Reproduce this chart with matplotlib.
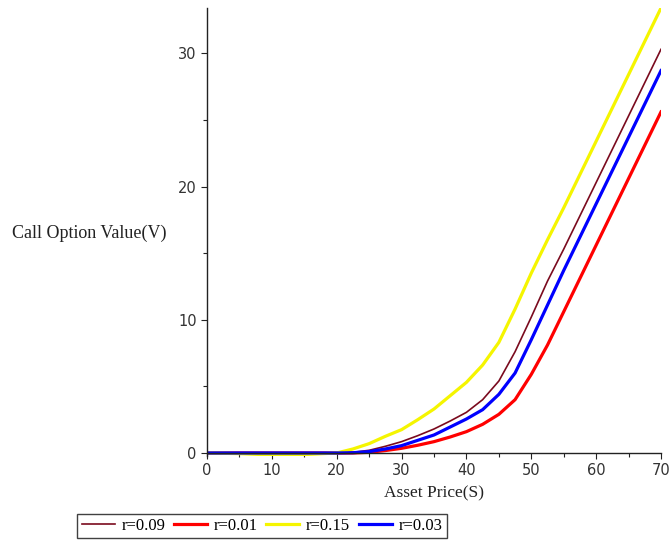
import numpy as np
import matplotlib
matplotlib.use("Agg")
import matplotlib.pyplot as plt
from matplotlib.ticker import MultipleLocator

# Asset price grid and option values
S = [0, 5, 10, 15, 20, 22.5, 25, 27.5, 30, 32.5, 35, 37.5, 40, 42.5, 45,
     47.5, 50, 52.5, 55, 57.5, 60, 62.5, 65, 67.5, 70]

v_r009 = [0, 0, 0, 0, 0, 0.05, 0.2, 0.5, 0.85, 1.3, 1.8, 2.4, 3.05, 4.0, 5.4,
          7.6, 10.2, 12.9, 15.3, 17.8, 20.3, 22.8, 25.3, 27.8, 30.3]
v_r001 = [0, 0, 0, 0, 0, 0, 0.05, 0.18, 0.35, 0.58, 0.85, 1.2, 1.6, 2.15, 2.9,
          4.0, 5.9, 8.1, 10.6, 13.1, 15.6, 18.1, 20.6, 23.1, 25.6]
v_r015 = [0, -0.05, -0.15, -0.12, 0, 0.3, 0.7, 1.25, 1.75, 2.5, 3.3, 4.3, 5.3,
          6.6, 8.3, 10.8, 13.5, 16.0, 18.4, 20.9, 23.4, 25.9, 28.4, 30.9, 33.4]
v_r003 = [0, 0, 0, 0, 0, 0.02, 0.1, 0.3, 0.55, 0.95, 1.35, 1.95, 2.55, 3.25, 4.4,
          6.0, 8.5, 11.1, 13.7, 16.2, 18.7, 21.2, 23.7, 26.2, 28.7]

labels = ["r=0.09", "r=0.01", "r=0.15", "r=0.03"]
colors = ["#7a0a1e", "#ff0000", "#f5f500", "#0000ff"]
widths = [1.2, 2.3, 2.3, 2.3]

fig = plt.figure(figsize=(6.72, 5.42), dpi=100)
ax = fig.add_axes([207 / 672, (542 - 456.3) / 542, (661 - 207) / 672, (456.3 - 8) / 542])

for vals, lab, c, w in zip([v_r009, v_r001, v_r015, v_r003], labels, colors, widths):
    ax.plot(S, vals, color=c, lw=w, label=lab, solid_joinstyle="round")

ax.set_xlim(0, 70)
ax.set_ylim(-0.25, 33.4)

ax.spines["top"].set_visible(False)
ax.spines["right"].set_visible(False)
ax.spines["bottom"].set_position(("data", 0))
for sp in ("left", "bottom"):
    ax.spines[sp].set_linewidth(1.0)
    ax.spines[sp].set_color("#222222")

ax.xaxis.set_major_locator(MultipleLocator(10))
ax.xaxis.set_minor_locator(MultipleLocator(5))
ax.yaxis.set_major_locator(MultipleLocator(10))
ax.yaxis.set_minor_locator(MultipleLocator(5))
ax.tick_params(which="both", direction="out", length=4, width=0.8, color="#222222",
               labelsize=10.5, labelcolor="#333333")
ax.tick_params(which="minor", length=3)

ax.text(434 / 672, 1 - 493 / 542, "Asset Price(S)", transform=fig.transFigure,
        ha="center", va="center", family="Liberation Serif", fontsize=12.5, color="#222222")
ax.text(12 / 672, 1 - 233 / 542, "Call Option Value(V)", transform=fig.transFigure,
        ha="left", va="center", family="Liberation Serif", fontsize=13, color="#222222")

leg = fig.legend(loc="center", bbox_to_anchor=(262 / 672, 1 - 526 / 542), ncol=4,
                 prop={"family": "Liberation Serif", "size": 12}, frameon=True,
                 fancybox=False, handlelength=2.0, handletextpad=0.4, columnspacing=0.5,
                 borderpad=0.25, borderaxespad=0)
leg.get_frame().set_edgecolor("#111111")
leg.get_frame().set_linewidth(1.0)

fig.savefig("out.png", dpi=100)
